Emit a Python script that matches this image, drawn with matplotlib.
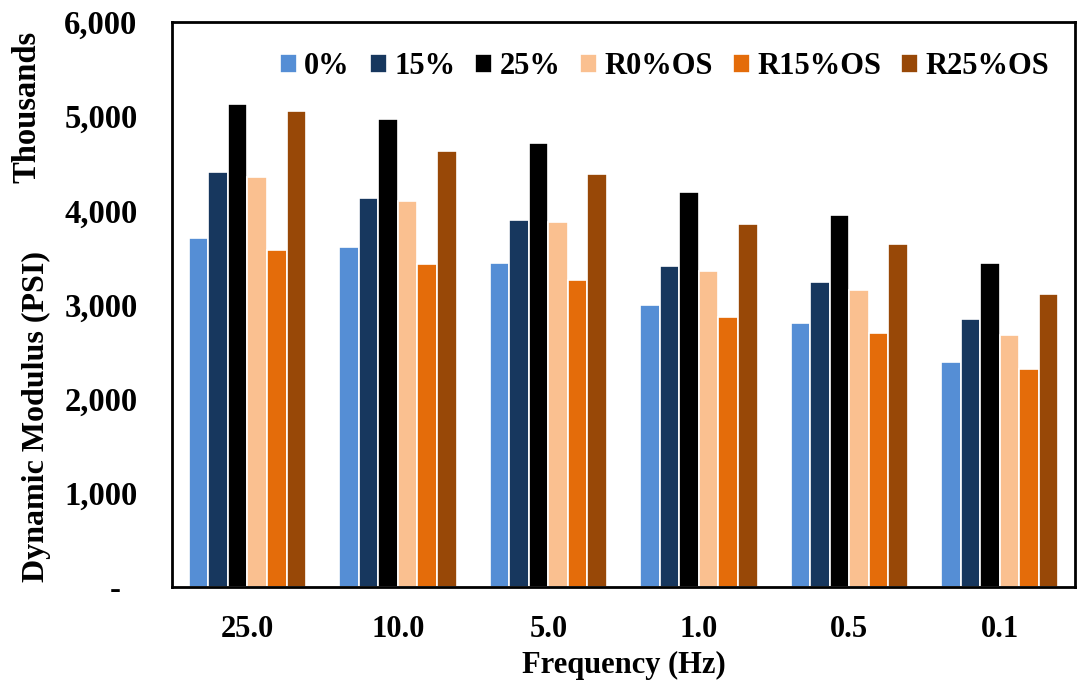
import numpy as np
import matplotlib
matplotlib.use("Agg")
import matplotlib.pyplot as plt
from matplotlib.ticker import FuncFormatter

# Dynamic modulus (PSI, in thousands) for each frequency
frequencies = ["25.0", "10.0", "5.0", "1.0", "0.5", "0.1"]
series_names = ["0%", "15%", "25%", "R0%OS", "R15%OS", "R25%OS"]
mix_0 = [3706, 3614, 3437, 2991, 2800, 2393]
mix_15 = [4407, 4131, 3894, 3409, 3236, 2843]
mix_25 = [5129, 4970, 4715, 4198, 3954, 3437]
r0_os = [4354, 4102, 3873, 3356, 3151, 2676]
r15_os = [3579, 3427, 3260, 2867, 2694, 2312]
r25_os = [5055, 4630, 4383, 3858, 3639, 3111]
colors = ["#558ED5", "#17375E", "#000000", "#FAC090", "#E46C0A", "#984807"]

plt.rcParams["font.family"] = ["Liberation Serif", "DejaVu Serif"]
plt.rcParams["font.weight"] = "bold"
plt.rcParams["font.size"] = 22

fig = plt.figure(figsize=(10.83, 6.90), dpi=100)
ax = fig.add_axes([0.159, 0.149, 0.8336, 0.819])

x = np.arange(len(frequencies))
all_series = [mix_0, mix_15, mix_25, r0_os, r15_os, r25_os]
slot = 0.78 / len(all_series)
for i, (name, vals, col) in enumerate(zip(series_names, all_series, colors)):
    offs = (i - (len(all_series) - 1) / 2) * slot
    ax.bar(x + offs, vals, width=slot, color=col, edgecolor="white",
           linewidth=1.2, label=name)

ax.set_xlim(-0.5, len(frequencies) - 0.5)
ax.set_ylim(0, 6000)
ax.set_yticks(np.arange(0, 6001, 1000))
ax.yaxis.set_major_formatter(FuncFormatter(
    lambda v, p: "-  " if v == 0 else f"{int(v):,}"))
ax.set_xticks(x)
ax.set_xticklabels(frequencies)
ax.tick_params(axis="both", length=0)
ax.tick_params(axis="x", labelsize=22, pad=20)
ax.tick_params(axis="y", labelsize=23.5, pad=25)
for s in ax.spines.values():
    s.set_linewidth(2)
    s.set_color("black")

ax.set_xlabel("Frequency (Hz)", fontsize=22, fontweight="bold", labelpad=5)
fig.text(0.034, 0.397, "Dynamic Modulus (PSI)", rotation=90, ha="center",
         va="center", fontsize=23, fontweight="bold")
fig.text(0.025, 0.845, "Thousands", rotation=90, ha="center", va="center",
         fontsize=23.5, fontweight="bold")

ax.legend(loc="upper right", ncol=6, frameon=False, fontsize=22,
          handlelength=0.55, handleheight=0.55, handletextpad=0.25,
          columnspacing=0.65, bbox_to_anchor=(1.002, 0.995))

fig.savefig("out.png", dpi=100)
